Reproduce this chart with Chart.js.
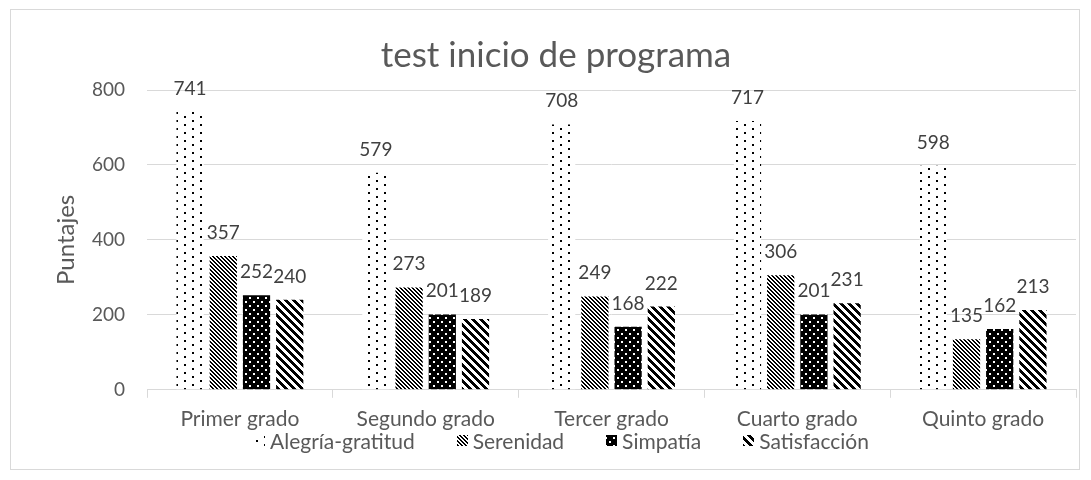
<!DOCTYPE html>
<html>
<head>
<meta charset="utf-8">
<script src="https://cdn.jsdelivr.net/npm/chart.js@4/dist/chart.umd.min.js"></script>
<style>
  body { margin: 0; background: #fff; }
  #wrap { width: 1091px; height: 480px; }
</style>
</head>
<body>
<div id="wrap"><canvas id="myChart" width="1091" height="480"></canvas></div>
<script>
// data
var grados = ['Primer grado', 'Segundo grado', 'Tercer grado', 'Cuarto grado', 'Quinto grado'];
var alegria = [741, 579, 708, 717, 598];
var serenidad = [357, 273, 249, 306, 135];
var simpatia = [252, 201, 168, 201, 162];
var satisfaccion = [240, 189, 222, 231, 213];
var yTicks = [0, 200, 400, 600, 800];

var FONT = 'Lato, "Open Sans", sans-serif';
var GREY = '#595959';

// pixel patterns like the Excel fills
function makePattern(w, h, isBlack) {
    var c = document.createElement('canvas');
    c.width = w; c.height = h;
    var g = c.getContext('2d');
    var img = g.createImageData(w, h);
    for (var y = 0; y < h; y++) {
        for (var x = 0; x < w; x++) {
            var v = isBlack(x, y) ? 0 : 255;
            var i = (y * w + x) * 4;
            img.data[i] = v; img.data[i + 1] = v; img.data[i + 2] = v; img.data[i + 3] = 255;
        }
    }
    g.putImageData(img, 0, 0);
    return document.createElement('canvas').getContext('2d').createPattern(c, 'repeat');
}

var pDots = makePattern(16, 8, function(x, y) {
    return (x < 2 && y < 2) || (x >= 8 && x < 10 && y >= 4 && y < 6);
});
var pFineDiag = makePattern(4, 4, function(x, y) {
    return ((x - y + 8) % 4) < 2;
});
var pBlackDots = makePattern(8, 8, function(x, y) {
    var white = (x >= 1 && x < 3 && y >= 1 && y < 3) || (x >= 5 && x < 7 && y >= 5 && y < 7);
    return !white;
});
var pWideDiag = makePattern(8, 8, function(x, y) {
    return ((x - y + 16) % 8) < 4;
});

// value labels above each bar
var valueLabels = {
    id: 'valueLabels',
    afterDatasetsDraw: function(chart) {
        var ctx = chart.ctx;
        ctx.save();
        ctx.font = '19px ' + FONT;
        ctx.fillStyle = '#404040';
        ctx.textAlign = 'center';
        ctx.textBaseline = 'alphabetic';
        chart.data.datasets.forEach(function(ds, di) {
            chart.getDatasetMeta(di).data.forEach(function(bar, i) {
                ctx.fillText(ds.data[i], bar.x, bar.y - 17);
            });
        });
        ctx.restore();
    }
};

// outer border + legend at the bottom
var frameAndLegend = {
    id: 'frameAndLegend',
    afterDraw: function(chart) {
        var ctx = chart.ctx;
        ctx.save();
        ctx.strokeStyle = '#d9d9d9';
        ctx.lineWidth = 1;
        ctx.strokeRect(10.5, 9.5, 1069, 460);

        ctx.font = '21px ' + FONT;
        ctx.textBaseline = 'middle';
        var box = 11, gap = 5, spacing = 42;
        var items = chart.data.datasets.map(function(ds) {
            return { text: ds.label, fill: ds.backgroundColor, w: box + gap + ctx.measureText(ds.label).width };
        });
        var total = items.reduce(function(s, it) { return s + it.w; }, 0) + spacing * (items.length - 1);
        var x = Math.round(561 - total / 2), y = 441;
        items.forEach(function(it) {
            ctx.fillStyle = it.fill;
            ctx.fillRect(Math.round(x), y - 6, box, box);
            ctx.fillStyle = GREY;
            ctx.fillText(it.text, x + box + gap, y + 1);
            x += it.w + spacing;
        });
        ctx.restore();
    }
};

var ctx = document.getElementById('myChart').getContext('2d');

var myBarChart = new Chart(ctx, {
    type: 'bar',
    data: {
        labels: grados,
        datasets: [
            { label: 'Alegría-gratitud', data: alegria, backgroundColor: pDots },
            { label: 'Serenidad', data: serenidad, backgroundColor: pFineDiag },
            { label: 'Simpatía', data: simpatia, backgroundColor: pBlackDots },
            { label: 'Satisfacción', data: satisfaccion, backgroundColor: pWideDiag }
        ]
    },
    options: {
        responsive: false,
        animation: false,
        layout: { padding: { left: 36, right: 15, top: 10, bottom: 39 } },
        datasets: { bar: { categoryPercentage: 0.715, barPercentage: 0.82, borderWidth: 0 } },
        plugins: {
            legend: { display: false },
            tooltip: { enabled: false },
            title: {
                display: true,
                text: 'test inicio de programa',
                color: GREY,
                font: { family: FONT, size: 35, weight: 'normal' },
                padding: { top: 25, bottom: 13 }
            }
        },
        scales: {
            x: {
                grid: { display: true, drawOnChartArea: false, drawTicks: true, tickLength: 8, color: '#d9d9d9' },
                border: { display: true, color: '#d9d9d9' },
                ticks: { color: GREY, font: { family: FONT, size: 21 }, padding: 9, maxRotation: 0 }
            },
            y: {
                min: 0,
                max: 800,
                afterBuildTicks: function(scale) {
                    scale.ticks = yTicks.map(function(v) { return { value: v }; });
                },
                afterFit: function(scale) { scale.width = 111; },
                grid: { color: '#d9d9d9', drawTicks: false },
                border: { display: false },
                ticks: { color: GREY, font: { family: FONT, size: 19 }, padding: 22 },
                title: {
                    display: true,
                    text: 'Puntajes',
                    color: GREY,
                    font: { family: FONT, size: 24, weight: 'normal' },
                    padding: { top: 16, bottom: 0 }
                }
            }
        }
    },
    plugins: [valueLabels, frameAndLegend]
});
</script>
</body>
</html>
